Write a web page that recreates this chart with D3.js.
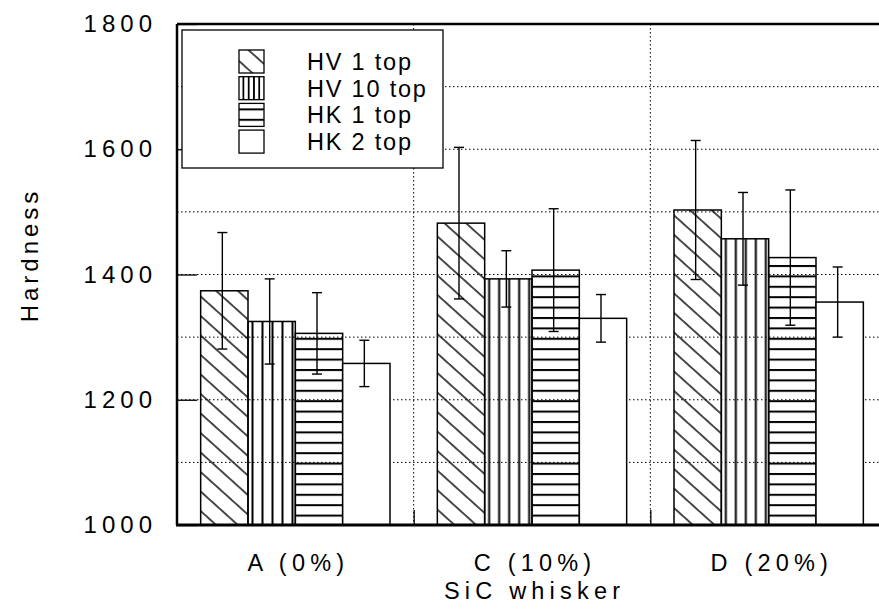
<!DOCTYPE html>
<html>
<head>
<meta charset="utf-8">
<script src="https://cdn.jsdelivr.net/npm/d3@7"></script>
<style>
  body { margin: 0; background: #fff; }
  svg { display: block; }
  svg text { font-family: "Liberation Sans", Arial, sans-serif; fill: #000; }
</style>
</head>
<body>
<figure id="bar" style="margin:0"></figure>
<script>
// hardness per SiC whisker content
const categories = ["A (0%)", "C (10%)", "D (20%)"];
const series = ["HV 1 top", "HV 10 top", "HK 1 top", "HK 2 top"];

const hv1 = [1374, 1482, 1503];
const hv10 = [1325, 1393, 1457];
const hk1 = [1306, 1407, 1427];
const hk2 = [1258, 1330, 1356];

// error bar half-widths
const hv1Err = [93, 121, 111];
const hv10Err = [68, 45, 74];
const hk1Err = [65, 98, 108];
const hk2Err = [37, 38, 56];

const yTicks = [1000, 1200, 1400, 1600, 1800];

const values = [hv1, hv10, hk1, hk2];
const errors = [hv1Err, hv10Err, hk1Err, hk2Err];
const fills = ["url(#diag)", "url(#vert)", "url(#horz)", "#fff"];

const width = 879, height = 614;
const plotLeft = 177, plotTop = 24, plotBottom = 525, plotRight = 887;

const svg = d3.select("figure#bar")
  .append("svg")
  .attr("width", width)
  .attr("height", height);

// x runs over three group slots, the plot is wider than the page
const x = d3.scaleLinear().domain([0, 3]).range([plotLeft, plotRight]);
const y = d3.scaleLinear().domain([1000, 1800]).range([plotBottom, plotTop]);
const unit = x(1) - x(0);
const sub = d3.scaleBand().domain(series).range([0.1 * unit, 0.9 * unit]);
const bw = sub.bandwidth();

// hatch patterns
const defs = svg.append("defs");
defs.append("pattern")
  .attr("id", "diag")
  .attr("patternUnits", "userSpaceOnUse")
  .attr("width", 14.5).attr("height", 14.5)
  .attr("patternTransform", "rotate(-48)")
  .append("line")
  .attr("x1", 1).attr("x2", 1).attr("y1", 0).attr("y2", 14.5)
  .attr("stroke", "#000").attr("stroke-width", 1.4);

defs.append("pattern")
  .attr("id", "vert")
  .attr("patternUnits", "objectBoundingBox")
  .attr("patternContentUnits", "userSpaceOnUse")
  .attr("width", 10 / bw).attr("height", 1)
  .append("rect")
  .attr("x", 3.5).attr("y", 0).attr("width", 2).attr("height", 1000)
  .attr("fill", "#000");

defs.append("pattern")
  .attr("id", "horz")
  .attr("patternUnits", "userSpaceOnUse")
  .attr("width", 40).attr("height", 10.4)
  .attr("y", plotBottom)
  .append("rect")
  .attr("x", 0).attr("y", 0).attr("width", 40).attr("height", 2)
  .attr("fill", "#000");

// dotted grid
const grid = svg.append("g").attr("stroke", "#000").attr("stroke-width", 1)
  .attr("stroke-dasharray", "1.5,2.5");
grid.selectAll("line.h")
  .data(d3.range(1100, 1800, 100))
  .enter().append("line")
  .attr("x1", plotLeft).attr("x2", plotRight)
  .attr("y1", d => y(d)).attr("y2", d => y(d));
grid.selectAll("line.v")
  .data([1, 2])
  .enter().append("line")
  .attr("x1", d => x(d)).attr("x2", d => x(d))
  .attr("y1", plotTop).attr("y2", plotBottom);

// y axis, ticks pointing inward
const yAxis = svg.append("g")
  .attr("transform", `translate(${plotLeft},0)`)
  .call(d3.axisLeft(y).tickValues(yTicks).tickFormat(d3.format("d"))
    .tickSizeInner(-20).tickSizeOuter(0).tickPadding(20));
yAxis.attr("font-family", null).attr("font-size", 24);
yAxis.select(".domain").remove();
yAxis.selectAll("line").attr("stroke", "#000").attr("stroke-width", 1.3);
yAxis.selectAll("text")
  .attr("letter-spacing", 5);

// short inward ticks on the bottom edge
const xTickAxis = svg.append("g")
  .attr("transform", `translate(0,${plotBottom})`)
  .call(d3.axisBottom(x).tickValues([1, 2]).tickSizeInner(-15).tickSizeOuter(0).tickFormat(""));
xTickAxis.select(".domain").remove();
xTickAxis.selectAll("line").attr("stroke", "#000").attr("stroke-width", 1.3);

// category labels
const xAxis = svg.append("g")
  .attr("transform", `translate(0,${plotBottom})`)
  .call(d3.axisBottom(x).tickValues([0.5, 1.5, 2.5]).tickSize(0).tickPadding(0)
    .tickFormat((d, i) => categories[i]));
xAxis.attr("font-family", null).attr("font-size", 23.5);
xAxis.select(".domain").remove();
xAxis.selectAll("text")
  .attr("letter-spacing", 5.2)
  .attr("dy", 0)
  .attr("y", 46)
  .attr("dx", 2.6);

// bars
const groups = svg.selectAll("g.series")
  .data(series)
  .enter().append("g")
  .attr("class", "series");

groups.selectAll("rect")
  .data((s, si) => categories.map((c, ci) => ({ si, ci, v: values[si][ci], e: errors[si][ci] })))
  .enter().append("rect")
  .attr("x", d => x(d.ci) + sub(series[d.si]))
  .attr("y", d => y(d.v))
  .attr("width", bw)
  .attr("height", d => y(1000) - y(d.v))
  .attr("fill", d => fills[d.si])
  .attr("stroke", "#000")
  .attr("stroke-width", 1.5);

// error bars
const errG = svg.append("g").attr("stroke", "#000").attr("stroke-width", 1.4);
const errData = [];
series.forEach((s, si) => categories.forEach((c, ci) => {
  errData.push({ cx: x(ci) + sub(s) + bw / 2 - 2, v: values[si][ci], e: errors[si][ci] });
}));
errG.selectAll("line.stem")
  .data(errData).enter().append("line")
  .attr("x1", d => d.cx).attr("x2", d => d.cx)
  .attr("y1", d => y(d.v + d.e)).attr("y2", d => y(d.v - d.e));
errG.selectAll("line.capTop")
  .data(errData).enter().append("line")
  .attr("x1", d => d.cx - 5).attr("x2", d => d.cx + 5)
  .attr("y1", d => y(d.v + d.e)).attr("y2", d => y(d.v + d.e));
errG.selectAll("line.capBot")
  .data(errData).enter().append("line")
  .attr("x1", d => d.cx - 5).attr("x2", d => d.cx + 5)
  .attr("y1", d => y(d.v - d.e)).attr("y2", d => y(d.v - d.e));

// frame
svg.append("line")
  .attr("x1", plotLeft).attr("x2", plotLeft).attr("y1", plotTop).attr("y2", plotBottom)
  .attr("stroke", "#000").attr("stroke-width", 2.5);
svg.append("line")
  .attr("x1", plotLeft).attr("x2", plotRight).attr("y1", plotTop).attr("y2", plotTop)
  .attr("stroke", "#000").attr("stroke-width", 2.5);
svg.append("line")
  .attr("x1", plotLeft - 1).attr("x2", plotRight).attr("y1", plotBottom).attr("y2", plotBottom)
  .attr("stroke", "#000").attr("stroke-width", 3);

// legend
const legend = svg.append("g").attr("transform", "translate(182,30)");
legend.append("rect")
  .attr("width", 261).attr("height", 138)
  .attr("fill", "#fff").attr("stroke", "#000").attr("stroke-width", 1.3);
const item = legend.selectAll("g.item")
  .data(series)
  .enter().append("g")
  .attr("class", "item")
  .attr("transform", (d, i) => `translate(0,${20 + i * 26.7})`);
item.append("rect")
  .attr("x", 57).attr("y", 0).attr("width", 25).attr("height", 23)
  .attr("fill", (d, i) => fills[i])
  .attr("stroke", "#000").attr("stroke-width", 1.3);
item.append("text")
  .attr("x", 125).attr("y", 20)
  .attr("font-size", 23.5)
  .attr("letter-spacing", 1.8)
  .text(d => d);

// axis titles
svg.append("text")
  .attr("x", x(1.5) + 2.6).attr("y", 599)
  .attr("text-anchor", "middle")
  .attr("font-size", 23.5)
  .attr("letter-spacing", 5.2)
  .text("SiC whisker");

svg.append("text")
  .attr("transform", "translate(38,255) rotate(-90)")
  .attr("text-anchor", "middle")
  .attr("font-size", 24)
  .attr("letter-spacing", 4)
  .text("Hardness");
</script>
</body>
</html>
